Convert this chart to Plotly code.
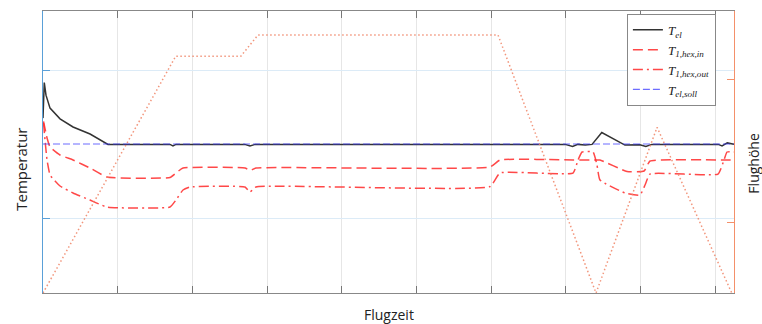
import plotly.graph_objects as go

# time axis (arbitrary units), ticks
x_ticks = [1, 2, 3, 4, 5, 6, 7, 8, 9]
temp_ticks = [60, 100]
alt_ticks = [3000, 9000]

# T_el
t_el = [0, 0.017, 0.04, 0.094, 0.228, 0.402, 0.63, 0.87, 1.70, 1.74, 1.78, 2.70, 2.77, 2.84,
        6.99, 7.09, 7.16, 7.26, 7.35, 7.48, 7.79, 7.99, 8.07, 8.15, 9.04, 9.09, 9.16, 9.25]
T_el = [87.0, 96.6, 93.2, 89.7, 86.8, 84.6, 82.7, 79.9, 79.9, 79.5, 79.9, 79.9, 79.5, 79.9,
        79.9, 79.35, 79.9, 79.7, 79.9, 83.1, 79.7, 79.8, 79.35, 79.9, 79.9, 79.5, 80.3, 79.9]

# T_1,hex,in
t_in = [0.007, 0.054, 0.094, 0.228, 0.402, 0.629, 0.857, 1.700, 1.780, 1.874, 2.704, 2.771, 2.851,
        5.984, 6.118, 7.095, 7.189, 7.323, 7.416, 7.456, 7.818, 8.046, 8.126, 9.036, 9.157, 9.25]
T_in = [86.08, 81.62, 79.19, 77.03, 75.68, 73.51, 71.08, 70.95, 72.16, 73.51, 73.51, 72.84, 73.51,
        73.78, 75.68, 75.68, 75.68, 75.68, 75.68, 75.68, 72.57, 72.70, 75.41, 75.68, 75.68, 75.68]

# T_1,hex,out
t_out = [0.007, 0.027, 0.054, 0.094, 0.161, 0.228, 0.402, 0.629, 0.857, 1.700, 1.780, 1.874, 1.968,
         2.704, 2.771, 2.851, 5.984, 6.118, 7.095, 7.162, 7.216, 7.363, 7.416, 7.456, 7.791, 7.992,
         8.059, 8.126, 9.036, 9.116, 9.157, 9.25]
T_out = [85.68, 81.08, 75.68, 71.62, 70.0, 68.65, 66.76, 64.86, 62.97, 62.97, 64.86, 67.57, 68.38,
         68.38, 67.03, 68.38, 68.51, 72.16, 72.16, 75.68, 77.84, 77.84, 74.32, 70.27, 66.76, 66.22,
         68.92, 71.89, 71.89, 75.68, 77.84, 77.84]

# T_el,soll
t_soll = [0, 9.25]
T_soll = [80, 80]

# flight altitude
t_alt = [0, 1.776, 2.647, 2.878, 6.091, 7.403, 8.22, 9.22]
alt = [0, 10000, 10000, 10900, 10900, 0, 7000, 0]

fig = go.Figure()
fig.add_trace(go.Scatter(x=t_alt, y=alt, yaxis="y2", mode="lines", showlegend=False,
                         line=dict(color="rgba(240,130,100,0.85)", width=1.5, dash="1.5px,2.5px")))
fig.add_trace(go.Scatter(x=t_el, y=T_el, mode="lines", name="<i>T<sub>el</sub></i>",
                         line=dict(color="#333333", width=1.5)))
fig.add_trace(go.Scatter(x=t_in, y=T_in, mode="lines", name="<i>T<sub>1,hex,in</sub></i>",
                         line=dict(color="rgba(255,40,40,0.85)", width=1.5, dash="10px,5px",
                                   shape="spline", smoothing=0.4)))
fig.add_trace(go.Scatter(x=t_out, y=T_out, mode="lines", name="<i>T<sub>1,hex,out</sub></i>",
                         line=dict(color="rgba(255,40,40,0.85)", width=1.5, dash="10px,4px,2px,4px",
                                   shape="spline", smoothing=0.4)))
fig.add_trace(go.Scatter(x=t_soll, y=T_soll, mode="lines", name="<i>T<sub>el,soll</sub></i>",
                         line=dict(color="rgba(60,60,255,0.75)", width=1.2, dash="7px,3px")))

fig.update_layout(
    width=762, height=324,
    margin=dict(l=43, r=28, t=11, b=31),
    paper_bgcolor="white", plot_bgcolor="white",
    font=dict(family="Open Sans", size=14, color="#222"),
    showlegend=True,
    legend=dict(x=0.845, y=0.99, xanchor="left", yanchor="top",
                bgcolor="white", bordercolor="#888", borderwidth=1,
                font=dict(family="Liberation Serif", size=13, color="#222"),
                itemwidth=30, tracegroupgap=0),
    xaxis=dict(range=[0, 9.25], tickvals=x_ticks, showticklabels=False,
               showgrid=True, gridcolor="#e6e6e6", gridwidth=1,
               showline=True, linecolor="#888", linewidth=1.2, mirror="ticks",
               ticks="inside", ticklen=7, tickcolor="#777", tickwidth=1.2, zeroline=False),
    yaxis=dict(range=[39.73, 115.95], tickvals=temp_ticks, showticklabels=False,
               showgrid=True, gridcolor="#dcebf7", gridwidth=1,
               showline=True, linecolor="#5aa0d8", linewidth=1.2,
               ticks="inside", ticklen=7, tickcolor="#5aa0d8", zeroline=False),
    yaxis2=dict(range=[0, 11915], tickvals=alt_ticks, showticklabels=False,
                overlaying="y", side="right", showgrid=False,
                showline=True, linecolor="#f4906a", linewidth=1.2,
                ticks="inside", ticklen=7, tickcolor="#f4906a", zeroline=False),
    annotations=[
        dict(text="Temperatur", xref="paper", yref="paper", x=-0.032, y=0.44, textangle=-90,
             showarrow=False, xanchor="center", yanchor="middle", font=dict(size=15)),
        dict(text="Flughöhe", xref="paper", yref="paper", x=1.028, y=0.46, textangle=-90,
             showarrow=False, xanchor="center", yanchor="middle", font=dict(size=14)),
        dict(text="Flugzeit", xref="paper", yref="paper", x=0.5, y=-0.076,
             showarrow=False, xanchor="center", yanchor="middle", font=dict(size=14)),
    ],
)

fig.write_html("out.html", config={"displayModeBar": False},
               post_script="document.body.style.margin='0';document.body.style.padding='0';")
